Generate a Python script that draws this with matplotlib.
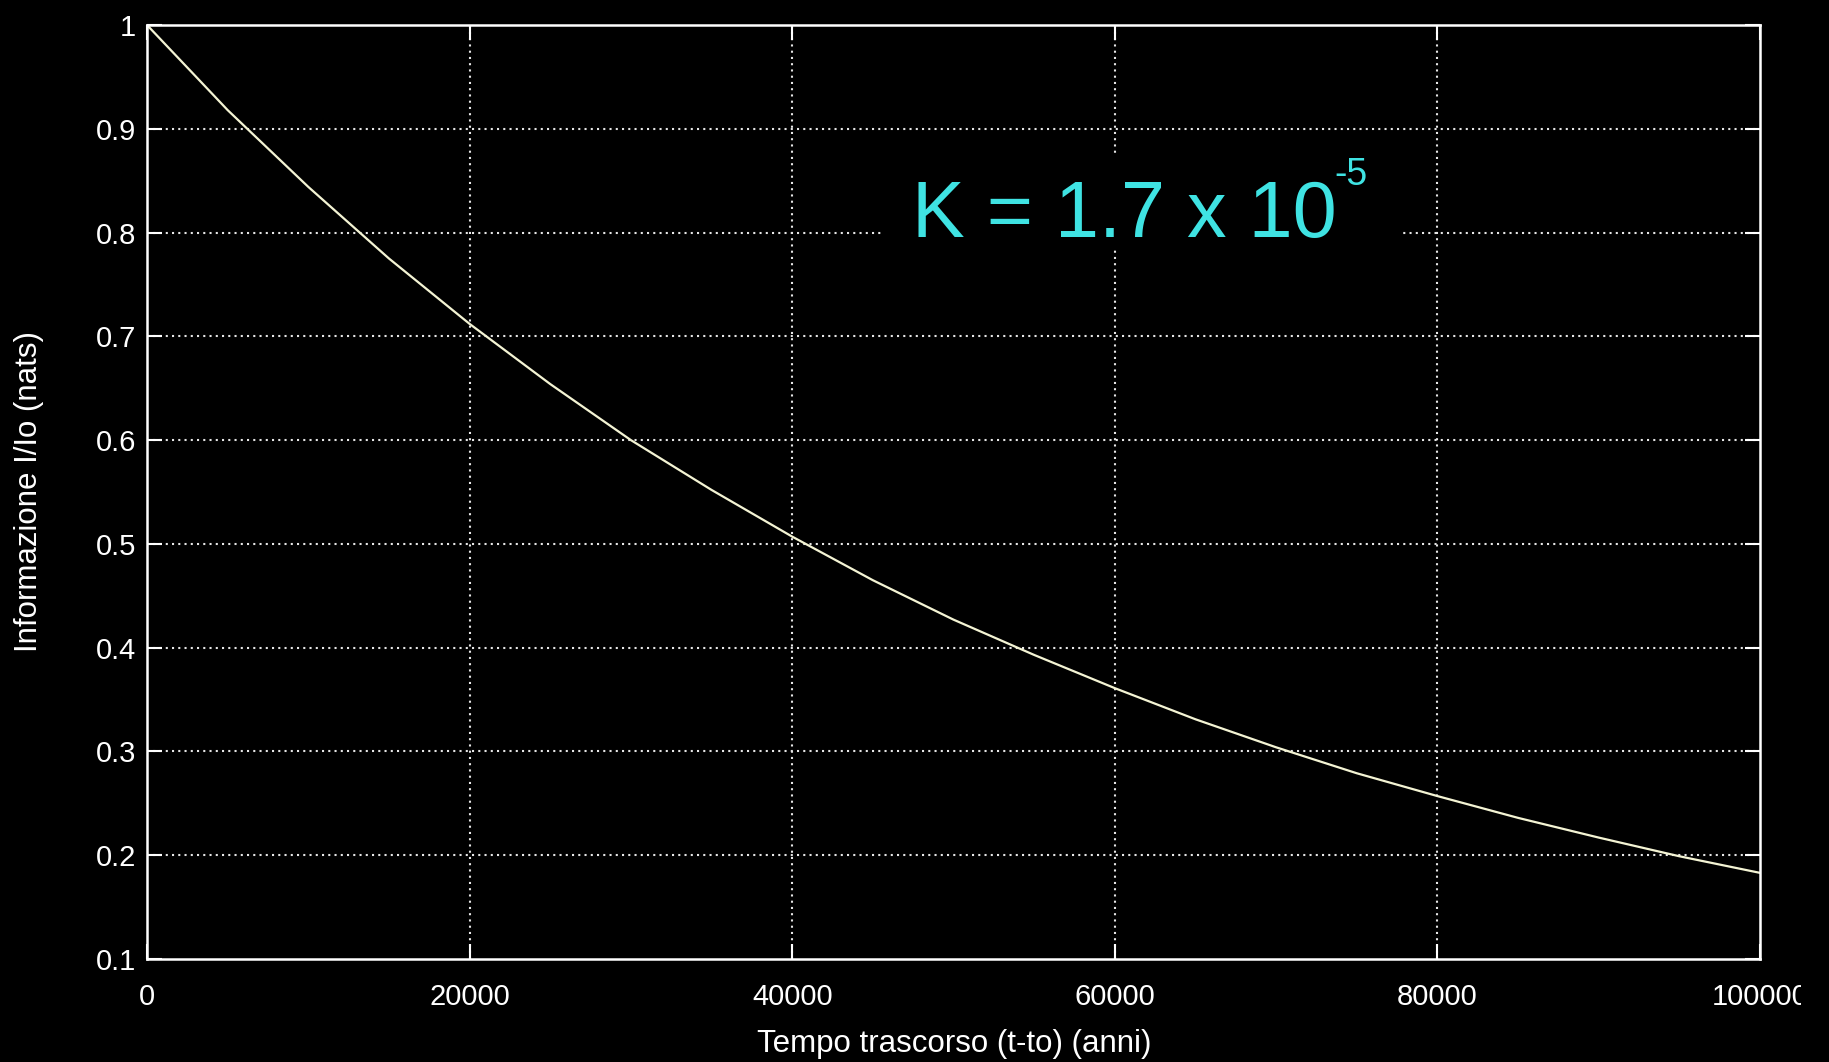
import matplotlib
matplotlib.use("Agg")
import matplotlib.pyplot as plt
from matplotlib.patches import Rectangle
from matplotlib.transforms import Bbox, TransformedBbox

# ---- data ----
years = [0, 5000, 10000, 15000, 20000, 25000, 30000, 35000, 40000, 45000,
         50000, 55000, 60000, 65000, 70000, 75000, 80000, 85000, 90000, 95000, 100000]
info_ratio = [1.000, 0.918, 0.844, 0.775, 0.712, 0.654, 0.600, 0.552, 0.507, 0.465,
              0.427, 0.393, 0.361, 0.331, 0.304, 0.279, 0.257, 0.236, 0.217, 0.199, 0.183]
x_ticks = [0, 20000, 40000, 60000, 80000, 100000]
x_tick_labels = ["0", "20000", "40000", "60000", "80000", "100000"]
y_ticks = [0.1, 0.2, 0.3, 0.4, 0.5, 0.6, 0.7, 0.8, 0.9, 1.0]
y_tick_labels = ["0.1", "0.2", "0.3", "0.4", "0.5", "0.6", "0.7", "0.8", "0.9", "1"]
x_label = "Tempo trascorso (t-to) (anni)"
y_label = "Informazione I/Io (nats)"
k_main = "K = 1.7 x 10"
k_exp = "-5"

FONT = ["Liberation Sans", "DejaVu Sans"]
W, H = 1829, 1062
fig = plt.figure(figsize=(W / 100, H / 100), dpi=100, facecolor="black")
ax = fig.add_axes([147 / W, 1 - 959 / H, (1760 - 147) / W, (959 - 25) / H])
ax.set_facecolor("black")

ax.set_xlim(0, 100000)
ax.set_ylim(0.1, 1.0)

# grid
for yv in y_ticks[1:-1]:
    ax.axhline(yv, color="#e6e6e6", lw=1.5, ls=(0, (1, 2)), zorder=1)
for xv in x_ticks[1:-1]:
    ax.axvline(xv, color="#e6e6e6", lw=1.5, ls=(0, (1, 2)), zorder=1)

# black background behind the annotation (blanks the grid)
ax.add_patch(Rectangle((0.455, 0.759), 0.322, 0.104, transform=ax.transAxes,
                       facecolor="black", edgecolor="none", zorder=2))

ax.plot(years, info_ratio, color="#f4f4d4", lw=1.6, zorder=3)

ax.text(47400, 0.7957, k_main, color="#3fe3e3", fontsize=57,
        family=FONT, ha="left", va="baseline", zorder=4)
ax.text(73600, 0.8458, k_exp, color="#3fe3e3", fontsize=27,
        family=FONT, ha="left", va="baseline", zorder=4)

for s in ax.spines.values():
    s.set_color("white")
    s.set_linewidth(1.8)
    s.set_zorder(5)

ax.set_xticks(x_ticks)
ax.set_xticklabels(x_tick_labels)
ax.set_yticks(y_ticks)
ax.set_yticklabels(y_tick_labels)
ax.tick_params(axis="both", direction="in", length=11, width=1.5, color="white",
               labelcolor="white", labelsize=21, top=True, right=True)
ax.tick_params(axis="x", pad=17)
ax.tick_params(axis="y", pad=8)
for lab in ax.get_xticklabels() + ax.get_yticklabels():
    lab.set_family(FONT)

# the last x label is cut off at the image edge in the reference
clip = TransformedBbox(Bbox([[0, 0], [1801 / W, 1]]), fig.transFigure)
last = ax.get_xticklabels()[-1]
last.set_clip_box(clip)
last.set_clip_on(True)

fig.text(954 / W, 1 - 1044 / H, x_label, color="white", fontsize=22.5,
         family=FONT, ha="center", va="center")
fig.text(29 / W, 1 - 492 / H, y_label, color="white", fontsize=22.5,
         family=FONT, ha="center", va="center", rotation=90)

fig.savefig("out.png", dpi=100, facecolor="black")
